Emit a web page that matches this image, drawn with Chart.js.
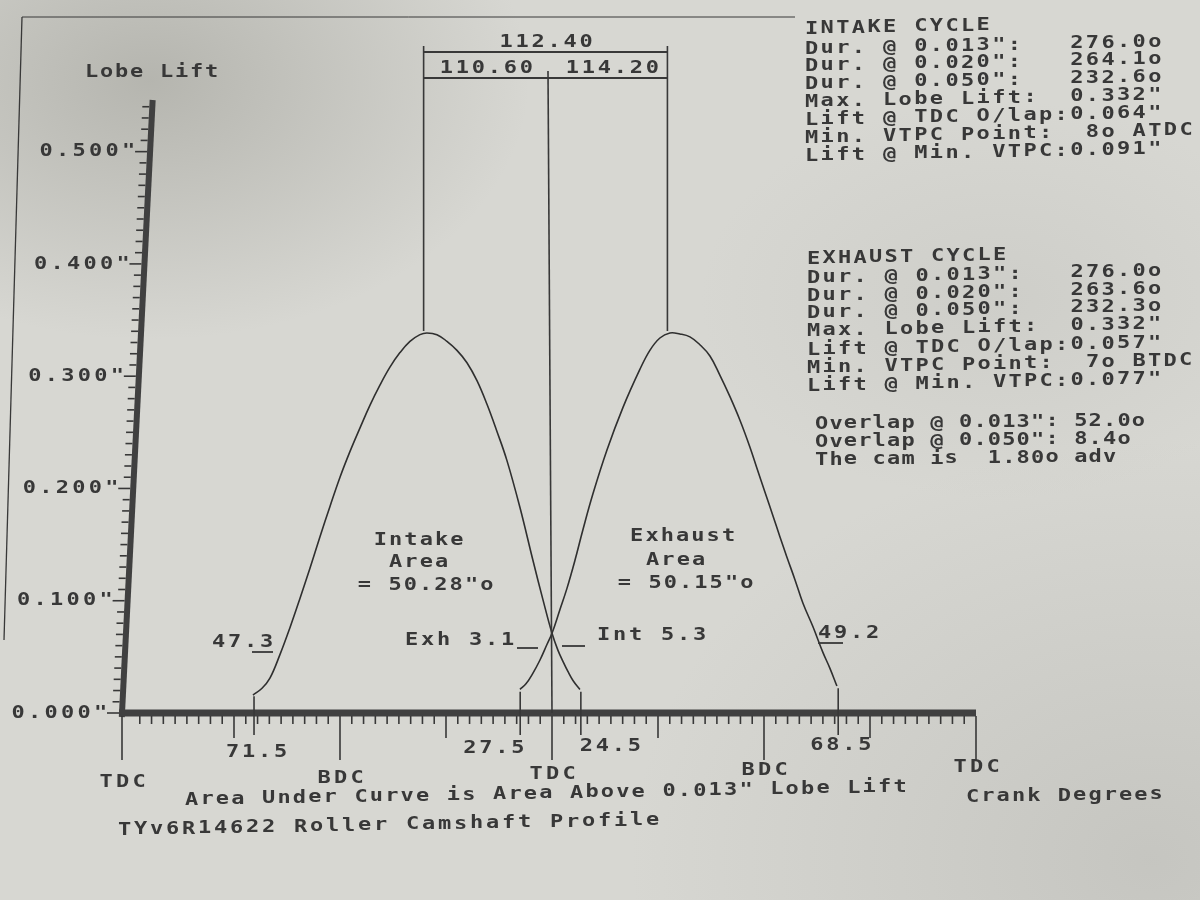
<!DOCTYPE html>
<html><head><meta charset="utf-8">
<script src="https://cdn.jsdelivr.net/npm/chart.js@4/dist/chart.umd.min.js"></script>
<style>
html,body{margin:0;padding:0;width:1200px;height:900px;overflow:hidden;}
body{background:
 radial-gradient(ellipse 380px 260px at 150px 80px, rgba(140,140,132,0.45), rgba(140,140,132,0) 100%),
 radial-gradient(ellipse 520px 420px at 1150px 860px, rgba(165,165,160,0.35), rgba(165,165,160,0) 100%),
 radial-gradient(ellipse 300px 200px at 1000px 300px, rgba(185,185,180,0.3), rgba(185,185,180,0) 100%),
 #d7d7d2;}
canvas{display:block;}
</style></head><body>
<canvas id="c" width="1200" height="900"></canvas>
<script>
// ---------- data ----------
const crankMarkDeg = [0, 180, 360, 540, 720];
const crankMarkLabels = ['TDC', 'BDC', 'TDC', 'BDC', 'TDC'];
const liftTickValues = [0, 0.1, 0.2, 0.3, 0.4, 0.5];
const liftTickLabels = ['0.000"', '0.100"', '0.200"', '0.300"', '0.400"', '0.500"'];

const intakeDeg  = [106.1, 113.8, 120.5, 129.0, 137.5, 146.0, 154.5, 163.0, 171.5, 180.0, 188.5, 197.0, 205.4, 213.9, 222.4, 230.9, 239.4, 247.9, 253.8, 262.3, 270.8, 279.3, 287.8, 296.3, 304.8, 313.2, 321.7, 332.8, 343.8, 352.3, 360.0, 365.0, 369.3, 373.5, 377.8, 383.7];
const intakeLift = [0.016, 0.022, 0.031, 0.052, 0.076, 0.102, 0.129, 0.157, 0.184, 0.210, 0.233, 0.254, 0.274, 0.292, 0.308, 0.321, 0.331, 0.337, 0.3385, 0.337, 0.331, 0.323, 0.312, 0.296, 0.275, 0.251, 0.225, 0.183, 0.136, 0.101, 0.071, 0.056, 0.046, 0.037, 0.029, 0.021];

const exhaustDeg  = [332.8, 337.9, 343.0, 349.7, 355.7, 360.0, 366.7, 372.7, 379.5, 386.2, 394.7, 406.6, 420.2, 434.6, 443.1, 451.6, 460.1, 468.6, 477.1, 485.6, 494.1, 502.5, 511.0, 519.5, 528.0, 534.0, 540.7, 547.5, 553.5, 559.4, 566.2, 573.0, 581.5, 590.0, 595.9, 601.9];
const exhaustLift = [0.021, 0.026, 0.034, 0.047, 0.061, 0.071, 0.092, 0.111, 0.136, 0.163, 0.195, 0.234, 0.272, 0.306, 0.323, 0.334, 0.3385, 0.3376, 0.335, 0.328, 0.318, 0.301, 0.282, 0.261, 0.237, 0.218, 0.197, 0.176, 0.157, 0.139, 0.119, 0.098, 0.077, 0.054, 0.040, 0.024];

const eventDeg = [107, 333, 384.5, 603];
const eventLift = [0.015, 0.019, 0.019, 0.022];
const eventLabels = ['71.5', '27.5', '24.5', '68.5'];

const centerlineDeg = [251, 458];
const centerlineLabels = ['110.60', '114.20'];
const separationLabel = '112.40';
const peakLift = 0.3385;

const intakeCycleLines = [
  'INTAKE CYCLE',
  'Dur. @ 0.013":   276.0o',
  'Dur. @ 0.020":   264.1o',
  'Dur. @ 0.050":   232.6o',
  'Max. Lobe Lift:  0.332"',
  'Lift @ TDC O/lap:0.064"',
  'Min. VTPC Point:  8o ATDC',
  'Lift @ Min. VTPC:0.091"'
];
const exhaustCycleLines = [
  'EXHAUST CYCLE',
  'Dur. @ 0.013":   276.0o',
  'Dur. @ 0.020":   263.6o',
  'Dur. @ 0.050":   232.3o',
  'Max. Lobe Lift:  0.332"',
  'Lift @ TDC O/lap:0.057"',
  'Min. VTPC Point:  7o BTDC',
  'Lift @ Min. VTPC:0.077"'
];
const overlapLines = [
  'Overlap @ 0.013": 52.0o',
  'Overlap @ 0.050": 8.4o',
  'The cam is  1.80o adv'
];
const intakeAreaLines = ['Intake', 'Area', '= 50.28"o'];
const exhaustAreaLines = ['Exhaust', 'Area', '= 50.15"o'];

// ---------- drawing ----------
const INK = '#383838';
const FONT = 'bold 18px "DejaVu Sans Mono", "Liberation Mono", monospace';
const STRETCH = 1.22;

function mono(ctx, text, x, y, pitch, slope, align) {
  pitch = pitch || 15.5; slope = slope || 0; align = align || 'left';
  const n = text.length;
  const w = (n - 1) * pitch + 12;
  let sx = x;
  if (align === 'center') sx = x - w / 2;
  else if (align === 'right') sx = x - w;
  ctx.save();
  ctx.font = FONT; ctx.fillStyle = INK;
  ctx.textAlign = 'left'; ctx.textBaseline = 'middle';
  for (let i = 0; i < n; i++) {
    const ch = text[i];
    if (ch === ' ') continue;
    ctx.save();
    ctx.translate(sx + i * pitch, y - slope * i * pitch);
    ctx.scale(STRETCH, 1);
    ctx.fillText(ch, 0, 0);
    ctx.restore();
  }
  ctx.restore();
}
function line(ctx, x1, y1, x2, y2, w) {
  ctx.save(); ctx.strokeStyle = INK; ctx.lineWidth = w || 1.5; ctx.lineCap = 'butt';
  ctx.beginPath(); ctx.moveTo(x1, y1); ctx.lineTo(x2, y2); ctx.stroke(); ctx.restore();
}

const decor = {
  id: 'decor',
  afterDatasetsDraw(chart) {
    const ctx = chart.ctx;
    const xs = chart.scales.x, ys = chart.scales.y;
    const y0 = ys.getPixelForValue(0);
    const yTop = ys.getPixelForValue(ys.max);
    const lean = 0.05, baseX = 122;
    const axisX = y => baseX + lean * (y0 - y);

    // paper frame
    line(ctx, 22, 17, 4, 640, 1.3);
    line(ctx, 22, 17, 795, 17, 1.0);

    // Y axis
    ctx.save();
    ctx.strokeStyle = '#404040'; ctx.lineWidth = 6;
    ctx.beginPath(); ctx.moveTo(axisX(y0 + 4), y0 + 4); ctx.lineTo(axisX(yTop), yTop); ctx.stroke();
    ctx.restore();
    for (let k = 0; k <= 54; k++) {
      const v = k / 100;
      const y = ys.getPixelForValue(v);
      const x = axisX(y) - 3;
      const major = k % 10 === 0;
      line(ctx, x - (major ? 12 : 7), y, x, y, 1.6);
    }
    liftTickValues.forEach((v, i) => {
      const y = ys.getPixelForValue(v);
      mono(ctx, liftTickLabels[i], axisX(y) - 16, y, 16.5, 0, 'right');
    });
    mono(ctx, 'Lobe Lift', 85, 72, 15, 0);

    // X axis
    const xEnd = xs.getPixelForValue(720);
    ctx.save();
    ctx.strokeStyle = '#404040'; ctx.lineWidth = 7;
    ctx.beginPath(); ctx.moveTo(axisX(y0) - 3, y0); ctx.lineTo(xEnd, y0); ctx.stroke();
    ctx.restore();
    for (let d = 0; d <= 720; d += 10) {
      const x = d === 0 ? axisX(y0) : xs.getPixelForValue(d);
      let len = 8;
      if (d % 180 === 0) len = 44; else if (d % 90 === 0) len = 22;
      line(ctx, x, y0 + 3, x, y0 + 3 + len, 1.6);
    }
    crankMarkDeg.forEach((d, i) => {
      const x = d === 0 ? axisX(y0) : xs.getPixelForValue(d);
      mono(ctx, crankMarkLabels[i], x, 782 - 0.0177 * (x - 120), 16.5, 0, 'center');
    });
    // event markers
    eventDeg.forEach((d, i) => {
      const x = xs.getPixelForValue(d);
      line(ctx, x, ys.getPixelForValue(eventLift[i]), x, y0 + 22, 1.6);
    });
    const ex = eventDeg.map(d => xs.getPixelForValue(d));
    mono(ctx, eventLabels[0], ex[0] + 2, 752, 16, 0, 'center');
    mono(ctx, eventLabels[1], ex[1] + 3, 748, 16, 0, 'right');
    mono(ctx, eventLabels[2], ex[2] - 1, 746, 16, 0, 'left');
    mono(ctx, eventLabels[3], ex[3] + 2, 745, 16, 0, 'center');

    // centerline / separation brackets
    const cl = centerlineDeg.map(d => xs.getPixelForValue(d));
    const tdcX = xs.getPixelForValue(360);
    const pk = ys.getPixelForValue(peakLift) - 2;
    line(ctx, cl[0], pk, cl[0], 46, 1.6);
    line(ctx, cl[1], pk, cl[1], 46, 1.6);
    line(ctx, cl[0], 52, cl[1], 52, 1.8);
    line(ctx, cl[0], 78, cl[1], 78, 1.8);
    line(ctx, tdcX - 4, 71, tdcX, y0, 1.6);
    mono(ctx, separationLabel, (cl[0] + cl[1]) / 2, 42, 16, 0, 'center');
    mono(ctx, centerlineLabels[0], (cl[0] + tdcX) / 2 - 2, 68, 16, 0, 'center');
    mono(ctx, centerlineLabels[1], (cl[1] + tdcX) / 2 + 2, 68, 16, 0, 'center');

    // area labels
    const iaY = [540, 562, 585], eaY = [536, 560, 583];
    const iaX = [418, 418, 425], eaX = [682, 675, 685];
    intakeAreaLines.forEach((t, i) => mono(ctx, t, iaX[i], iaY[i], 15.3, 0, 'center'));
    exhaustAreaLines.forEach((t, i) => mono(ctx, t, eaX[i], eaY[i], 15.3, 0, 'center'));

    // ramp annotations
    mono(ctx, '47.3', 212, 642, 16, 0);
    line(ctx, 252, 652, 273, 652, 1.8);
    mono(ctx, 'Exh 3.1', 405, 640, 16, 0);
    line(ctx, 517, 648, 538, 648, 1.8);
    line(ctx, 562, 646, 585, 646, 1.8);
    mono(ctx, 'Int 5.3', 597, 635, 16, 0);
    mono(ctx, '49.2', 818, 633, 16, 0);
    line(ctx, 818, 643, 843, 643, 1.8);

    // right text blocks
    const inY = [29, 49, 66, 84, 102, 120, 138, 156];
    intakeCycleLines.forEach((t, i) => mono(ctx, t, 805, inY[i], 15.6, 0.02));
    const exY = [259, 278, 296, 313, 331, 350, 368, 386];
    exhaustCycleLines.forEach((t, i) => mono(ctx, t, 807, exY[i], 15.5, 0.02));
    const ovY = [424, 442, 460];
    overlapLines.forEach((t, i) => mono(ctx, t, 815, ovY[i], 14.4, 0.01));

    // captions
    mono(ctx, 'Area Under Curve is Area Above 0.013" Lobe Lift', 185, 800, 15.4, 0.018);
    mono(ctx, 'Crank Degrees', 966, 797, 15.3, 0.012);
    mono(ctx, 'TYv6R14622 Roller Camshaft Profile', 118, 830, 16.0, 0.018);
  }
};

new Chart(document.getElementById('c').getContext('2d'), {
  type: 'line',
  data: {
    datasets: [
      { label: 'Intake', data: intakeDeg.map((d, i) => ({ x: d, y: intakeLift[i] })),
        borderColor: '#2f2f2f', borderWidth: 1.6, pointRadius: 0, fill: false, tension: 0.4 },
      { label: 'Exhaust', data: exhaustDeg.map((d, i) => ({ x: d, y: exhaustLift[i] })),
        borderColor: '#2f2f2f', borderWidth: 1.6, pointRadius: 0, fill: false, tension: 0.4 }
    ]
  },
  options: {
    responsive: false, animation: false, devicePixelRatio: 1, events: [],
    layout: { padding: { left: 128, right: 224, top: 100, bottom: 187 } },
    scales: {
      x: { type: 'linear', min: 0, max: 720, display: false },
      y: { type: 'linear', min: 0, max: 0.546, display: false }
    },
    plugins: { legend: { display: false }, tooltip: { enabled: false } }
  },
  plugins: [decor]
});
</script>
</body></html>
